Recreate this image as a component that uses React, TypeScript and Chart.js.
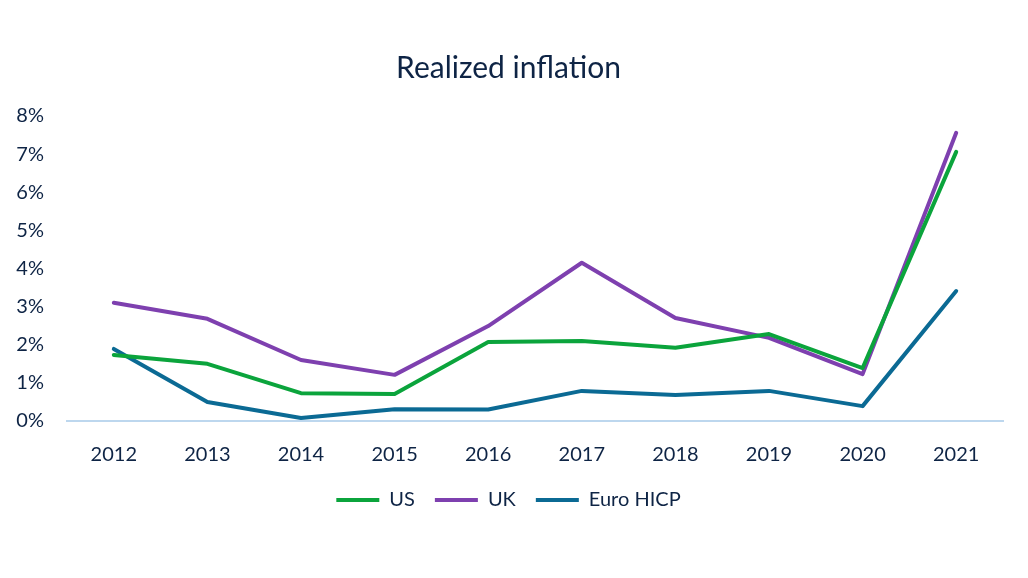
import React, { useEffect, useRef } from "react";
import { Chart, registerables } from "chart.js";

Chart.register(...registerables);

const years = ["2012", "2013", "2014", "2015", "2016", "2017", "2018", "2019", "2020", "2021"];
const usValues = [1.73, 1.5, 0.73, 0.71, 2.07, 2.1, 1.92, 2.28, 1.39, 7.06];
const ukValues = [3.1, 2.68, 1.6, 1.21, 2.49, 4.15, 2.7, 2.18, 1.23, 7.56];
const euroValues = [1.89, 0.5, 0.08, 0.31, 0.3, 0.79, 0.68, 0.79, 0.39, 3.41];

const TEXT = "#0E2445";
const FONT = "Lato";

export default function App() {
  const ref = useRef<HTMLCanvasElement | null>(null);
  useEffect(() => {
    if (!ref.current) return;
    const chart = new Chart(ref.current, {
      type: "line",
      data: {
        labels: years,
        datasets: [
          { label: "US", data: usValues, borderColor: "#0BA43C", backgroundColor: "#0BA43C", borderWidth: 4, pointRadius: 0, borderCapStyle: "round", borderJoinStyle: "round", tension: 0 },
          { label: "UK", data: ukValues, borderColor: "#7E40AF", backgroundColor: "#7E40AF", borderWidth: 4, pointRadius: 0, borderCapStyle: "round", borderJoinStyle: "round", tension: 0 },
          { label: "Euro HICP", data: euroValues, borderColor: "#0B6A94", backgroundColor: "#0B6A94", borderWidth: 4, pointRadius: 0, borderCapStyle: "round", borderJoinStyle: "round", tension: 0 },
        ],
      },
      options: {
        animation: false,
        responsive: false,
        maintainAspectRatio: false,
        layout: { padding: { left: 14, right: 25, top: 0, bottom: 58 } },
        plugins: {
          title: {
            display: true,
            text: "Realized inflation",
            color: TEXT,
            font: { family: FONT, size: 30, weight: "normal" },
            padding: { top: 50, bottom: 30 },
          },
          legend: {
            position: "bottom",
            labels: {
              color: TEXT,
              font: { family: FONT, size: 20 },
              usePointStyle: true,
              pointStyle: "line",
              pointStyleWidth: 43,
              boxHeight: 20,
              padding: 20,
            },
          },
          tooltip: { enabled: false },
        },
        scales: {
          x: {
            offset: true,
            grid: { display: false, drawTicks: false },
            border: { display: true, color: "#BDD7EE", width: 2 },
            ticks: { color: TEXT, font: { family: FONT, size: 20 }, padding: 22 },
            afterFit: (scale: any) => { scale.height = 49; },
          },
          y: {
            min: 0,
            max: 8,
            grid: { display: false, drawTicks: false },
            border: { display: false },
            ticks: {
              stepSize: 1,
              color: TEXT,
              font: { family: FONT, size: 20 },
              padding: 23,
              callback: (v: any) => v + "%",
            },
            afterFit: (scale: any) => { scale.width = 53; },
          },
        },
      },
    });
    return () => chart.destroy();
  }, []);
  return (
    <div style={{ position: "fixed", left: 0, top: 0, width: 1028, height: 578, background: "#fff" }}>
      <canvas ref={ref} width={1028} height={578} style={{ width: 1028, height: 578 }} />
    </div>
  );
}
